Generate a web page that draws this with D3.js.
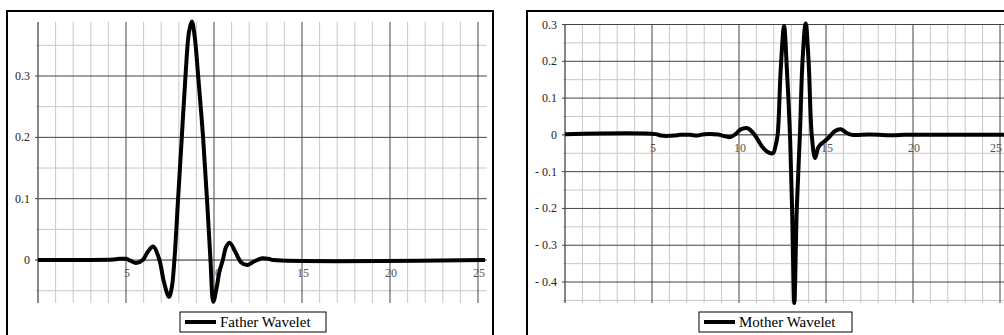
<!DOCTYPE html>
<html>
<head>
<meta charset="utf-8">
<script src="https://cdn.jsdelivr.net/npm/d3@7"></script>
<style>
  body { margin: 0; background: #fff; }
  svg { display: block; }
  text { font-family: "Liberation Serif", "Times New Roman", serif; }
</style>
</head>
<body>
<div id="chart"></div>
<script>
// Father / Mother wavelet plots (two framed panels)

// ---- data ----
const fatherX = [0, 4.3, 4.66, 5.0, 5.25, 5.57, 5.95, 6.25, 6.55, 6.9, 7.15, 7.44, 7.6, 7.75, 7.96, 8.17, 8.38, 8.58, 8.74, 8.9, 9.1, 9.38, 9.6, 9.8, 9.96, 10.15, 10.3, 10.5, 10.7, 10.9, 11.2, 11.55, 11.9, 12.3, 12.75, 13.1, 13.4, 25.4];
const fatherY = [0, 0.001, 0.002, 0.002, -0.001, -0.005, 0.0, 0.014, 0.022, 0.0, -0.035, -0.06, -0.045, 0.0, 0.1, 0.2, 0.3, 0.372, 0.389, 0.365, 0.3, 0.2, 0.1, 0.0, -0.068, -0.045, -0.02, 0.0, 0.022, 0.028, 0.014, -0.004, -0.008, -0.002, 0.003, 0.002, 0.0, 0.0];

const motherX = [0, 5.2, 5.5, 6.3, 6.6, 7.2, 7.6, 8.0, 8.8, 9.2, 9.5, 9.8, 10.1, 10.5, 10.9, 11.3, 11.6, 11.95, 12.1, 12.22, 12.4, 12.59, 12.75, 12.93, 13.05, 13.18, 13.32, 13.5, 13.65, 13.83, 14.0, 14.18, 14.37, 14.55, 14.7, 14.9, 15.2, 15.5, 15.85, 16.2, 16.5, 17.5, 19.0, 19.5, 25.5];
const motherY = [0.002, 0.002, -0.002, -0.002, 0.0, 0.0, -0.002, 0.002, 0.001, -0.004, -0.006, 0.002, 0.015, 0.018, 0.0, -0.03, -0.045, -0.05, -0.03, 0.0, 0.18, 0.296, 0.18, 0.0, -0.2, -0.457, -0.2, 0.0, 0.2, 0.303, 0.2, 0.0, -0.063, -0.035, -0.025, -0.018, -0.005, 0.01, 0.015, 0.005, 0.0, 0.001, -0.001, 0.0, 0.0];

const xTicks = [5, 10, 15, 20, 25];
const fatherYTicks = [0.3, 0.2, 0.1, 0];
const fatherYLabels = ["0.3", "0.2", "0.1", "0"];
const motherYTicks = [0.3, 0.2, 0.1, 0, -0.1, -0.2, -0.3, -0.4];
const motherYLabels = ["0.3", "0.2", "0.1", "0", "- 0.1", "- 0.2", "- 0.3", "- 0.4"];

const W = 1004, H = 335;
const svg = d3.select("#chart").append("svg")
    .attr("width", W)
    .attr("height", H);

function drawPanel(p) {
    const g = svg.append("g");

    // outer frame
    g.append("rect")
        .attr("x", p.frame[0]).attr("y", p.frame[1])
        .attr("width", p.frame[2]).attr("height", p.frame[3])
        .attr("fill", "#fff").attr("stroke", "#000").attr("stroke-width", 2);

    const x = d3.scaleLinear().domain([0, 25.5]).range(p.xRange);
    const y = d3.scaleLinear().domain(p.yDomain).range(p.yRange);

    const [x0, x1] = x.range();
    const [yb, yt] = y.range();

    // minor grid: every 1 in x, every 0.05 in y
    const xMinor = d3.range(1, 26).filter(v => v % 5 !== 0);
    const yMinor = d3.range(Math.ceil(p.yDomain[0] / 0.05), Math.floor(p.yDomain[1] / 0.05) + 1)
        .map(k => +(k * 0.05).toFixed(2))
        .filter(v => Math.abs(Math.round(v * 10) - v * 10) > 1e-6);

    g.selectAll(".vminor").data(xMinor).enter().append("line")
        .attr("x1", d => x(d)).attr("x2", d => x(d))
        .attr("y1", yt).attr("y2", yb)
        .attr("stroke", "#c8c8c8").attr("stroke-width", 1);

    g.selectAll(".hminor").data(yMinor).enter().append("line")
        .attr("x1", x0 - 2).attr("x2", x1)
        .attr("y1", d => y(d)).attr("y2", d => y(d))
        .attr("stroke", "#c8c8c8").attr("stroke-width", 1);

    // major grid
    g.selectAll(".vmajor").data([0].concat(xTicks)).enter().append("line")
        .attr("x1", d => x(d)).attr("x2", d => x(d))
        .attr("y1", yt).attr("y2", yb)
        .attr("stroke", d => d === 0 ? "#111" : "#444").attr("stroke-width", 1);

    g.selectAll(".hmajor").data(p.yTicks).enter().append("line")
        .attr("x1", x0 - 3).attr("x2", x1)
        .attr("y1", d => y(d)).attr("y2", d => y(d))
        .attr("stroke", d => d === 0 ? "#222" : "#444").attr("stroke-width", 1);

    // tick labels
    g.selectAll(".ylab").data(p.yTicks).enter().append("text")
        .attr("x", x0 - 8)
        .attr("y", d => y(d) + 4)
        .attr("text-anchor", "end")
        .attr("font-size", 12)
        .attr("fill", "#222")
        .text((d, i) => p.yLabels[i]);

    // keep the last label inside the window
    g.selectAll(".xlab").data(xTicks).enter().append("text")
        .attr("x", d => Math.min(x(d) + 1, W - 8))
        .attr("y", y(0) + 17)
        .attr("text-anchor", "middle")
        .attr("font-size", 12)
        .attr("fill", "#555")
        .text(d => d);

    // the curve
    const pts = p.xs.map((v, i) => [v, p.ys[i]]);
    const line = d3.line()
        .x(d => x(d[0]))
        .y(d => y(d[1]))
        .curve(d3.curveCatmullRom.alpha(0.5));

    g.append("path")
        .datum(pts)
        .attr("d", line)
        .attr("fill", "none")
        .attr("stroke", "#000")
        .attr("stroke-width", 4)
        .attr("stroke-linejoin", "round");

    // legend
    const lg = g.append("g").attr("transform", `translate(${p.legend[0]},${p.legend[1]})`);
    lg.append("rect")
        .attr("width", p.legend[2]).attr("height", 20)
        .attr("fill", "#fff").attr("stroke", "#000").attr("stroke-width", 1);
    lg.append("line")
        .attr("x1", 5).attr("x2", 36)
        .attr("y1", 10).attr("y2", 10)
        .attr("stroke", "#000").attr("stroke-width", 4);
    lg.append("text")
        .attr("x", 40).attr("y", 15)
        .attr("font-size", 15)
        .attr("fill", "#000")
        .text(p.label);
}

drawPanel({
    frame: [7, 11, 486, 340],
    xRange: [38, 38 + 25.5 * 17.6],
    yDomain: [-0.07, 0.388],
    yRange: [303, 22],
    yTicks: fatherYTicks,
    yLabels: fatherYLabels,
    xs: fatherX, ys: fatherY,
    legend: [180, 312, 146],
    label: "Father Wavelet"
});

drawPanel({
    frame: [527, 11, 520, 340],
    xRange: [565, 565 + 25.5 * 17.4],
    yDomain: [-0.457, 0.3],
    yRange: [303, 24.5],
    yTicks: motherYTicks,
    yLabels: motherYLabels,
    xs: motherX, ys: motherY,
    legend: [699, 312, 153],
    label: "Mother Wavelet"
});
</script>
</body>
</html>
